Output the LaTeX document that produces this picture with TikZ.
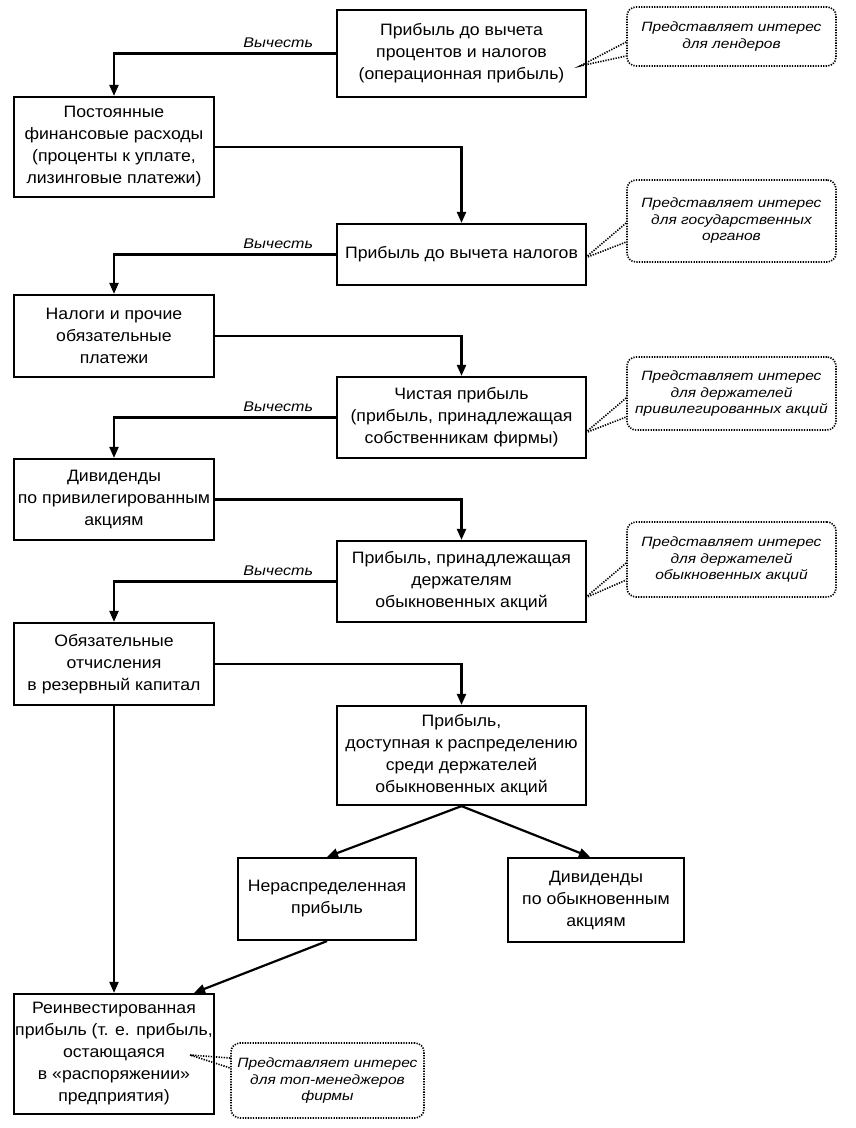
\documentclass[tikz,border=0pt]{standalone}
\usepackage{fontspec}
\setmainfont{Liberation Sans}[FakeStretch=1.07]
\newfontfamily\callfont{Liberation Sans}[FakeStretch=1.15]
\usetikzlibrary{arrows.meta}
\begin{document}
\begin{tikzpicture}[x=1pt,y=-1pt,
 box/.style={draw, line width=2.2pt, align=center, font=\fontsize{16.5}{22}\selectfont, inner sep=0pt},
 lbox/.style={box, minimum width=200pt},
 rbox/.style={box, minimum width=249pt},
 conn/.style={line width=2.2pt, -{Triangle[length=11pt,width=9pt]}},
 note/.style={draw, line width=1.6pt, dash pattern=on 1.3pt off 1.3pt, rounded corners=9pt, align=center, font=\callfont\itshape\fontsize{13.5}{16.5}\selectfont, inner sep=0pt, minimum width=209pt},
 tail/.style={line width=1.6pt, dash pattern=on 1.3pt off 1.3pt},
 lab/.style={font=\callfont\itshape\fontsize{14}{15}\selectfont, above=1pt}
]
\useasboundingbox (0,0) rectangle (855,1128);

% main boxes
\node[rbox, minimum height=87pt] (b1) at (461.5,53.5) {Прибыль до вычета\\процентов и налогов\\(операционная прибыль)};
\node[lbox, minimum height=100pt] (l1) at (114,147) {Постоянные\\финансовые расходы\\(проценты к уплате,\\лизинговые платежи)};
\node[rbox, minimum height=61pt] (b2) at (461.5,254.5) {Прибыль до вычета налогов};
\node[lbox, minimum height=82pt] (l2) at (114,336) {Налоги и прочие\\обязательные\\платежи};
\node[rbox, minimum height=81pt] (b3) at (461.5,417.5) {Чистая прибыль\\(прибыль, принадлежащая\\собственникам фирмы)};
\node[lbox, minimum height=81pt] (l3) at (114,499.5) {Дивиденды\\по привилегированным\\акциям};
\node[rbox, minimum height=81pt] (b4) at (461.5,581.5) {Прибыль, принадлежащая\\держателям\\обыкновенных акций};
\node[lbox, minimum height=82pt] (l4) at (114,664) {Обязательные\\отчисления\\в резервный капитал};
\node[rbox, minimum height=99pt] (b5) at (461.5,755.5) {Прибыль,\\доступная к распределению\\среди держателей\\обыкновенных акций};
\node[box, minimum width=178pt, minimum height=82pt] (n1) at (327,899) {Нераспределенная\\прибыль};
\node[box, minimum width=176pt, minimum height=84pt] (n2) at (596,900) {Дивиденды\\по обыкновенным\\акциям};
\node[lbox, minimum height=120pt] (b6) at (114,1054) {Реинвестированная\\прибыль (т. е. прибыль,\\остающаяся\\в «распоряжении»\\предприятия)};

% connectors
\draw[conn] (b1.west) -| node[lab, pos=0.13] {Вычесть} (l1.north);
\draw[conn] (l1.east) -| (b2.north);
\draw[conn] (b2.west) -| node[lab, pos=0.13] {Вычесть} (l2.north);
\draw[conn] (l2.east) -| (b3.north);
\draw[conn] (b3.west) -| node[lab, pos=0.13] {Вычесть} (l3.north);
\draw[conn] (l3.east) -| (b4.north);
\draw[conn] (b4.west) -| node[lab, pos=0.13] {Вычесть} (l4.north);
\draw[conn] (l4.east) -| (b5.north);
\draw[conn] (b5.south) -- (n1.north);
\draw[conn] (b5.south) -- ([xshift=-6pt]n2.north);
\draw[conn] (l4.south) -- (b6.north);
\draw[conn] (n1.south) -- ([xshift=80pt]b6.north);

% callouts
\node[note, minimum height=59pt] (c1) at (731.5,36.5) {Представляет интерес\\для лендеров};
\coordinate (t1) at (580,66);
\draw[tail] ([yshift=-5.5pt]c1.west) -- (t1) -- ([yshift=-19.5pt]c1.west);

\node[note, minimum height=82pt] (c2) at (731.5,221) {Представляет интерес\\для государственных\\органов};
\coordinate (t2) at (585,258);
\draw[tail] ([yshift=-2pt]c2.west) -- (t2) -- ([yshift=-21pt]c2.west);

\node[note, minimum height=73pt] (c3) at (731.5,393.5) {Представляет интерес\\для держателей\\привилегированных акций};
\coordinate (t3) at (585,433);
\draw[tail] ([yshift=-4.5pt]c3.west) -- (t3) -- ([yshift=-23.5pt]c3.west);

\node[note, minimum height=75pt] (c4) at (731.5,559.5) {Представляет интерес\\для держателей\\обыкновенных акций};
\coordinate (t4) at (585,598);
\draw[tail] ([yshift=-3.5pt]c4.west) -- (t4) -- ([yshift=-20.5pt]c4.west);

\node[note, minimum width=193pt, minimum height=75pt] (c5) at (327.5,1080.5) {Представляет интерес\\для топ-менеджеров\\фирмы};
\coordinate (t5) at (190,1055);
\draw[tail] ([yshift=22.5pt]c5.west) -- (t5) -- ([yshift=12.5pt]c5.west);
\end{tikzpicture}
\end{document}
